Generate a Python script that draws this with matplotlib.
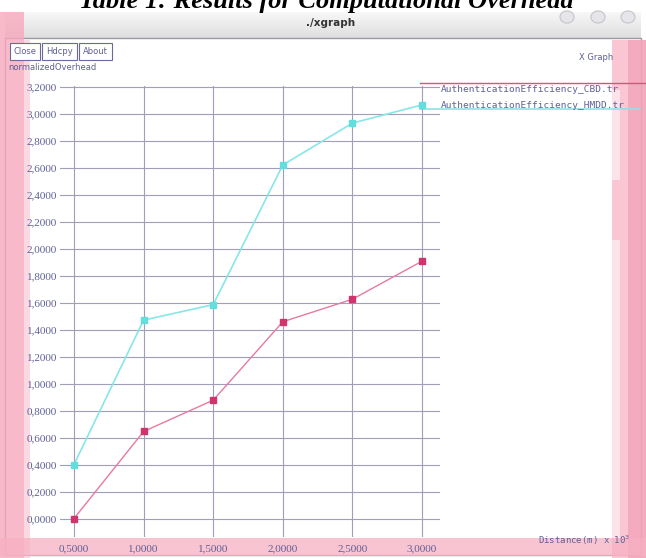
import matplotlib.pyplot as plt
from matplotlib.patches import Rectangle, Circle

# data read from the two trace files
distance = [0.5, 1.0, 1.5, 2.0, 2.5, 3.0]
cbd_values = [0.40, 1.47, 1.585, 2.62, 2.93, 3.065]
hmdd_values = [0.0, 0.645, 0.877, 1.458, 1.625, 1.907]
y_ticks = [0.2 * i for i in range(17)]
x_ticks = [0.5, 1.0, 1.5, 2.0, 2.5, 3.0]
legend_names = ["AuthenticationEfficiency_CBD.tr", "AuthenticationEfficiency_HMDD.tr"]

W, H = 646, 558
fig = plt.figure(figsize=(W / 100, H / 100), dpi=100)
fig.patch.set_facecolor("white")


def fx(px):
    return px / W


def fy(py):
    return 1 - py / H


def box(x0, y0, x1, y1, **kw):
    kw.setdefault("zorder", -5)
    fig.patches.append(Rectangle((fx(x0), fy(y1)), fx(x1) - fx(x0), fy(y0) - fy(y1),
                                 transform=fig.transFigure, **kw))


label_col = "#5e6096"

# window title bar
for i in range(26):
    g = 0.97 - 0.004 * i
    box(5, 12 + i, 641, 13 + i, facecolor=(g, g, g), edgecolor="none")
box(5, 38, 641, 555, facecolor="white", edgecolor="#9a9aa8", linewidth=1)
fig.text(fx(331), fy(23), "./xgraph", fontsize=7.5, color="#333333",
         ha="center", va="center", family="DejaVu Sans", weight="bold")
for cx in (567, 598, 628):
    fig.patches.append(Circle((fx(cx), fy(17)), 7 / W, transform=fig.transFigure,
                              facecolor="#e6e6ea", edgecolor="#c4c4cc", linewidth=0.8))

# pinkish bands along the frame
box(0, 12, 24, 558, facecolor="#f7a9bd", edgecolor="none", alpha=0.8)
box(24, 40, 30, 558, facecolor="#f7c0cf", edgecolor="none", alpha=0.6)
box(612, 40, 646, 558, facecolor="#f9b4c6", edgecolor="none", alpha=0.75)
box(628, 40, 646, 558, facecolor="#f39ab2", edgecolor="none", alpha=0.6)
box(0, 538, 646, 556, facecolor="#f7b0c3", edgecolor="none", alpha=0.75)
box(612, 90, 620, 180, facecolor="white", edgecolor="none", alpha=0.5)
box(612, 240, 620, 538, facecolor="white", edgecolor="none", alpha=0.5)

# caption above the window, cut by the top edge
fig.text(fx(326), fy(8), "Table 1: Results for Computational Overhead", fontsize=19,
         ha="center", va="baseline", family="Liberation Serif", weight="bold",
         style="italic", color="black")

# buttons
for x0, x1, name in [(10, 40, "Close"), (42, 77, "Hdcpy"), (79, 112, "About")]:
    box(x0, 43, x1, 60, facecolor="white", edgecolor="#6a6c98", linewidth=0.8, zorder=2)
    fig.text(fx((x0 + x1) / 2), fy(51.5), name, fontsize=6, color=label_col,
             ha="center", va="center", family="DejaVu Sans")
fig.text(fx(596), fy(57), "X Graph", fontsize=6, color=label_col,
         ha="center", va="center", family="DejaVu Sans")
fig.text(fx(8), fy(67), "normalizedOverhead", fontsize=6, color=label_col,
         ha="left", va="center", family="DejaVu Sans")
fig.text(fx(538), fy(540), r"Distance(m) x 10$^3$", fontsize=6.5, color=label_col,
         ha="left", va="center", family="DejaVu Sans Mono")

# plot area
ax = fig.add_axes([fx(60), fy(537), fx(440) - fx(60), fy(86) - fy(537)])
ax.set_zorder(5)
ax.set_facecolor("none")
ax.set_xlim(0.3994, 3.129)
ax.set_ylim(-0.137, 3.205)
for s in ax.spines.values():
    s.set_visible(False)
ax.set_xticks(x_ticks)
ax.set_yticks(y_ticks)
ax.set_xticklabels([f"{v:.4f}".replace(".", ",") for v in x_ticks])
ax.set_yticklabels([f"{v:.4f}".replace(".", ",") for v in y_ticks])
ax.tick_params(length=0, labelsize=8, labelcolor=label_col)
ax.tick_params(axis="y", pad=2)
ax.tick_params(axis="x", pad=5)
for lab in ax.get_xticklabels() + ax.get_yticklabels():
    lab.set_family("Liberation Serif")
ax.grid(True, color="#a09eb8", linewidth=0.8)
ax.set_axisbelow(True)

ax.plot(distance, cbd_values, color="#86e6e8", linewidth=1.2, marker="s",
        markersize=4, markerfacecolor="#62dede", markeredgecolor="#62dede")
ax.plot(distance, hmdd_values, color="#e87aa0", linewidth=1.0, marker="s",
        markersize=4, markerfacecolor="#d0336d", markeredgecolor="#d0336d")

# legend entries beside the plot
fig.lines.append(plt.Line2D([fx(420), fx(646)], [fy(83), fy(83)], transform=fig.transFigure,
                            color="#e0507a", linewidth=1.0))
fig.lines.append(plt.Line2D([fx(420), fx(640)], [fy(109), fy(109)], transform=fig.transFigure,
                            color="#86e6e8", linewidth=1.2))
for i, name in enumerate(legend_names):
    fig.text(fx(441), fy(90 + 16 * i), name, fontsize=6.8, color=label_col,
             ha="left", va="center", family="DejaVu Sans Mono")

fig.savefig("out.png", dpi=100)
